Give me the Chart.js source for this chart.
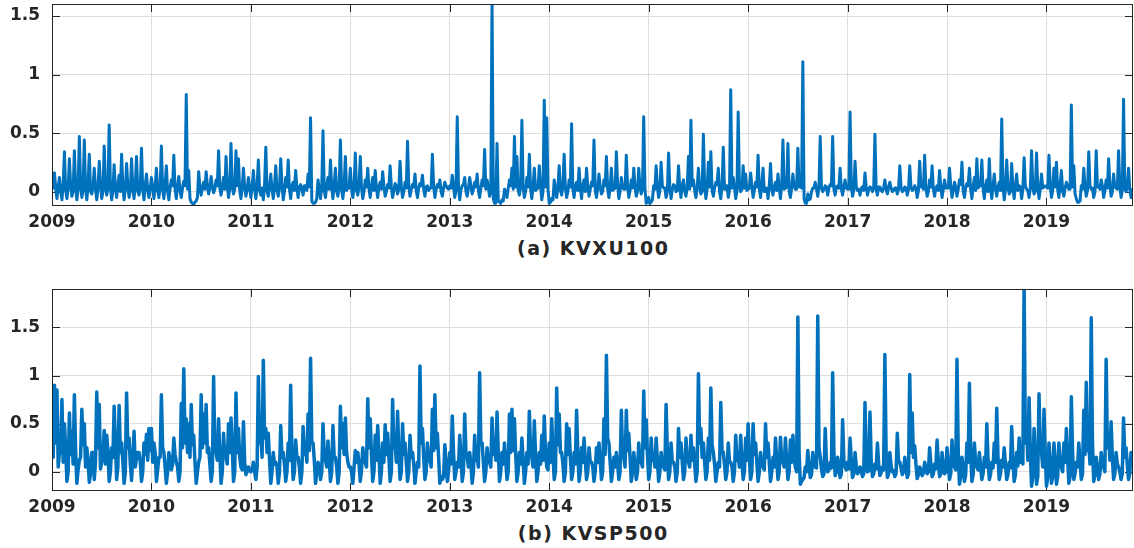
<!DOCTYPE html>
<html>
<head>
<meta charset="utf-8">
<title>KVXU100 / KVSP500</title>
<script src="https://cdn.jsdelivr.net/npm/chart.js@4.4.1/dist/chart.umd.min.js"></script>
<style>
  html, body { margin: 0; padding: 0; background: #fff; }
  #wrap { position: relative; width: 1134px; height: 548px; overflow: hidden; }
  canvas { position: absolute; left: 0; }
  #chartA { top: 0; }
  #chartB { top: 285px; }
  .cap {
    position: absolute; left: 52px; width: 1081px; text-align: center;
    font: bold 19px "DejaVu Sans", sans-serif; line-height: 22px;
    letter-spacing: 1.5px; padding-left: 1.5px; box-sizing: border-box;
    color: #262626;
  }
  #capA { top: 237px; }
  #capB { top: 522px; }
</style>
</head>
<body>
<div id="wrap">
  <canvas id="chartA" width="1134" height="232"></canvas>
  <div class="cap" id="capA">(a) KVXU100</div>
  <canvas id="chartB" width="1134" height="232"></canvas>
  <div class="cap" id="capB">(b) KVSP500</div>
</div>
<script>
// time axis: one sample every 1/80 year, starting Jan 2009
const startYear = 2009;
const yearStep = 0.0125;
const yearTicks = [2009, 2010, 2011, 2012, 2013, 2014, 2015, 2016, 2017, 2018, 2019];
const valueTicks = [0, 0.5, 1, 1.5];

// (a) KVXU100 -- peaks/troughs (every 1/40 yr), one line per year
const kvxu100Peaks = [
  0.02,0.16,-0.06,0.12,-0.07,0.34,-0.06,0.28,-0.04,0.35,-0.07,0.47,-0.05,0.44,-0.07,0.32,-0.02,0.2,-0.07,0.26,-0.06,0.39,-0.03,0.57,-0.07,0.23,-0.05,0.14,0.32,-0.07,0.24,-0.05,0.28,-0.06,0.3,-0.03,0.37,-0.07,0.15,-0.05,
  0.12,-0.06,0.2,-0.05,0.39,-0.06,0.22,-0.07,0.1,0.31,-0.06,0.13,-0.05,0.09,0.83,0.18,-0.09,-0.11,-0.08,0.17,-0.03,0.08,0.17,-0.02,0.13,-0.01,0.1,0.35,-0.03,0.12,0.3,-0.05,0.41,-0.02,0.35,0.28,-0.06,0.2,-0.04,0.12,
  -0.05,0.18,-0.06,0.27,-0.03,-0.07,0.38,-0.04,0.15,-0.06,0.22,-0.04,0.28,-0.07,0.12,0.27,-0.06,0.08,0.18,-0.05,0.06,-0.03,0.05,0.15,0.63,-0.1,-0.09,0.1,-0.06,0.52,-0.05,0.12,0.27,-0.06,0.2,-0.04,0.44,-0.06,0.3,0.06,
  0.2,-0.05,0.33,-0.03,0.3,-0.06,0.1,0.2,-0.05,0.12,0.18,-0.05,0.08,0.17,-0.04,0.06,0.22,-0.05,0.07,-0.02,0.26,-0.05,0.08,0.43,-0.04,0.06,0.15,-0.05,0.07,0.14,-0.04,0.05,0.03,0.32,-0.05,0.06,0.1,-0.04,0.08,0.03,
  0.05,0.14,-0.05,0.64,-0.07,0.05,0.12,-0.04,0.12,-0.02,0.08,0.15,-0.05,0.1,0.36,0.1,-0.04,1.65,-0.1,0.41,-0.09,-0.07,0.02,-0.05,0.1,0.2,0.47,0.3,-0.03,0.61,-0.05,0.12,0.32,-0.06,0.2,0.02,0.22,-0.07,0.78,0.63,
  -0.1,-0.06,0.1,-0.05,0.22,-0.03,0.32,-0.05,0.1,0.58,-0.05,0.08,0.2,-0.06,0.1,0.2,-0.04,0.08,0.44,-0.05,0.15,-0.02,0.1,0.3,-0.05,0.2,0.02,0.34,-0.06,0.12,0.02,0.31,-0.05,0.1,0.2,-0.04,0.2,-0.02,0.64,-0.1,
  -0.05,-0.09,0.05,0.22,-0.05,0.25,0.03,-0.05,0.33,-0.06,0.06,0.0,0.22,-0.05,0.1,-0.04,0.3,0.61,0.1,-0.05,0.2,-0.02,0.49,-0.06,0.25,0.34,-0.04,0.08,0.2,-0.06,0.38,0.02,-0.05,0.87,0.12,-0.06,0.68,0.0,0.22,0.15,
  0.02,0.16,-0.05,0.08,0.31,-0.05,0.2,0.0,-0.06,0.24,-0.03,0.08,0.15,-0.06,0.44,0.03,0.41,-0.05,0.15,0.02,0.37,0.06,1.11,-0.1,-0.02,-0.06,0.03,0.08,-0.04,0.47,0.0,0.05,-0.03,0.06,0.47,-0.03,0.05,0.2,-0.03,0.1,
  0.02,0.68,-0.04,0.26,0.01,-0.03,0.04,0.16,-0.03,0.04,0.0,0.49,-0.03,0.04,0.0,0.1,-0.02,0.08,0.0,0.03,-0.02,0.22,0.0,0.04,-0.03,0.22,0.01,0.05,-0.05,0.26,0.05,0.31,-0.04,0.1,0.22,-0.04,0.05,0.18,-0.05,0.1,
  0.03,0.2,-0.05,0.08,-0.04,0.1,0.25,-0.05,0.07,0.2,-0.06,0.12,0.28,0.05,0.27,-0.06,0.1,0.28,-0.06,0.15,-0.04,0.08,0.62,-0.07,0.27,-0.02,0.24,-0.06,0.15,0.05,-0.06,0.29,0.02,-0.05,0.35,-0.02,0.33,-0.06,0.15,0.05,
  0.05,0.31,-0.05,0.2,0.25,-0.05,0.18,-0.04,0.08,0.02,0.74,0.22,-0.06,-0.09,0.05,0.2,-0.04,0.34,0.02,-0.05,0.35,0.05,0.1,-0.05,0.1,0.28,-0.04,0.15,0.03,0.35,-0.05,0.79,0.0,0.2,-0.05
];
// (a) KVXU100 -- in-between readings of the dense band
const kvxu100Band = [
  0.04,0.02,0.05,0.0,0.06,0.01,0.03,0.05,0.0,0.04, 0.02,0.06,0.01,0.03,0.05,0.0,0.04,0.02,0.03,0.06, 0.0,0.05,0.02,0.04,0.01,0.03,0.06,0.0,0.04,0.02, 0.05,0.01,0.03,0.06,0.0,0.04,0.02,0.05,0.01,0.03,
  0.03,0.05,0.01,0.04,0.02,0.06,0.0,0.03,0.05,0.02, 0.04,0.01,0.03,0.05,0.02,-0.06,-0.1,-0.09,-0.05,0.03, 0.04,0.02,0.05,0.03,0.04,0.02,0.05,0.03,0.04,0.02, 0.05,0.03,0.04,0.02,0.05,0.01,0.03,0.04,0.02,0.03,
  0.04,0.02,0.05,0.01,0.03,0.06,0.0,0.04,0.02,0.05, 0.01,0.03,0.06,0.0,0.04,0.02,0.05,0.01,0.03,0.04, 0.02,0.05,0.01,0.04,-0.08,-0.1,-0.06,0.02,0.04,0.01, 0.05,0.02,0.03,0.06,0.0,0.04,0.02,0.05,0.01,0.03,
  0.02,0.04,0.01,0.05,0.03,0.0,0.04,0.02,0.05,0.01, 0.03,0.04,0.02,0.05,0.0,0.03,0.04,0.01,0.05,0.02, 0.04,0.0,0.03,0.05,0.02,0.04,0.01,0.03,0.05,0.02, 0.04,0.01,0.03,0.05,0.02,0.04,0.0,0.03,0.05,0.02,
  0.03,0.05,0.01,0.04,0.02,0.06,0.0,0.03,0.05,0.02, 0.04,0.01,0.03,0.05,0.02,0.04,0.0,-0.06,-0.1,-0.08, -0.1,-0.08,0.0,0.03,0.05,0.02,0.04,0.01,0.05,0.03, 0.0,0.04,0.02,0.05,0.01,0.03,0.06,0.0,0.04,0.02,
  -0.09,-0.07,0.02,0.04,0.01,0.05,0.03,0.0,0.04,0.02, 0.05,0.01,0.03,0.06,0.0,0.04,0.02,0.05,0.01,0.03, 0.04,0.0,0.05,0.02,0.04,0.01,0.03,0.06,0.0,0.04, 0.02,0.05,0.01,0.03,0.04,0.0,0.05,0.02,0.03,-0.09,
  -0.1,-0.07,0.02,0.04,0.01,0.05,0.03,0.0,0.04,0.02, 0.05,0.01,0.03,0.06,0.0,0.04,0.02,0.05,0.01,0.03, 0.04,0.0,0.05,0.02,0.04,0.01,0.03,0.06,0.0,0.04, 0.02,0.05,0.01,0.03,0.04,0.0,0.05,0.02,0.03,0.01,
  0.03,0.05,0.01,0.04,0.02,0.06,0.0,0.03,0.05,0.02, 0.04,0.01,0.03,0.05,0.02,0.04,0.0,0.03,0.05,0.02, 0.04,0.03,-0.06,-0.1,-0.07,0.0,0.03,0.02,0.04,0.03, 0.02,0.04,0.03,0.05,0.02,0.04,0.03,0.02,0.04,0.03,
  0.02,0.03,0.01,0.04,0.02,0.03,0.01,0.04,0.02,0.03, 0.03,0.02,0.04,0.01,0.03,0.02,0.04,0.03,0.01,0.03, 0.02,0.04,0.01,0.03,0.02,0.04,0.02,0.03,0.01,0.04, 0.02,0.03,0.0,0.04,0.02,0.03,0.01,0.04,0.02,0.03,
  0.03,0.05,0.01,0.04,0.02,0.06,0.0,0.03,0.05,0.02, 0.04,0.01,0.03,0.05,0.02,0.04,0.0,0.03,0.05,0.02, 0.04,0.01,0.05,0.02,0.04,0.0,0.03,0.05,0.01,0.04, 0.02,0.05,0.01,0.03,0.04,0.0,0.05,0.02,0.03,0.04,
  0.03,0.05,0.01,0.04,0.02,0.06,0.0,0.03,0.05,0.02, 0.04,-0.02,-0.09,-0.08,0.02,0.04,0.01,0.05,0.03,0.0, 0.04,0.02,0.05,0.01,0.03,0.06,0.0,0.04,0.02,0.05, 0.01,0.03,0.04,0.02,0.03
];

// (b) KVSP500 -- peaks/troughs (every 1/40 yr), one line per year
const kvsp500Peaks = [
  0.45,0.9,0.85,0.2,0.75,0.5,-0.1,0.61,0.42,0.8,-0.12,0.12,0.65,0.5,0.25,-0.11,0.2,-0.08,0.83,0.7,0.1,0.43,0.38,-0.1,0.25,0.68,-0.08,0.69,0.3,-0.12,0.82,0.35,-0.09,0.42,0.15,0.2,-0.1,0.3,0.39,0.45,
  0.45,0.3,-0.1,0.15,0.8,0.2,-0.12,0.2,0.02,0.35,0.1,-0.1,0.71,1.07,0.55,0.5,0.7,0.38,-0.12,0.1,0.8,0.6,0.7,0.25,-0.1,0.99,0.2,0.55,-0.12,0.4,0.15,0.5,0.56,-0.1,0.82,0.45,0.05,0.52,-0.03,0.05,
  0.0,0.1,-0.08,0.99,0.4,1.16,0.45,0.4,-0.12,0.2,0.1,-0.12,0.48,0.2,-0.1,0.3,0.9,-0.08,0.33,0.15,-0.12,0.47,0.3,0.6,1.18,0.3,-0.12,0.1,-0.08,0.5,0.12,0.32,-0.1,0.48,0.15,-0.12,0.68,0.5,0.56,0.1,
  0.05,-0.12,0.22,0.2,-0.1,0.25,0.1,0.76,0.55,-0.1,0.38,0.48,-0.12,0.3,0.49,0.4,-0.1,0.75,0.3,0.63,-0.08,0.5,0.3,-0.1,0.38,0.2,-0.12,0.1,1.1,0.45,-0.08,0.3,0.12,0.65,0.8,0.4,-0.12,-0.08,0.28,-0.1,
  0.2,0.58,-0.08,0.1,0.38,-0.1,0.6,0.15,0.2,-0.12,0.38,0.15,1.03,0.3,-0.1,0.25,0.1,0.56,0.35,0.62,-0.1,0.2,0.3,-0.08,0.6,0.65,0.55,-0.1,0.2,0.35,-0.12,0.2,0.63,0.15,0.53,-0.1,0.2,0.38,0.58,0.05,
  0.3,0.55,-0.08,0.87,0.6,0.2,-0.1,0.5,0.45,-0.08,0.2,0.64,-0.1,0.25,0.35,-0.08,0.25,0.1,-0.1,0.25,0.3,-0.08,0.55,1.21,0.3,-0.1,0.15,0.2,-0.08,0.64,0.15,0.64,0.4,-0.1,0.2,-0.08,0.3,0.1,0.84,0.54,
  -0.08,0.35,0.15,0.35,-0.1,0.2,0.05,0.7,-0.08,0.3,0.1,-0.1,0.45,0.3,-0.08,0.35,0.1,0.38,0.25,-0.1,1.02,0.45,0.3,-0.08,0.35,0.87,0.2,-0.1,0.1,0.72,0.2,-0.08,0.3,0.1,-0.1,0.38,0.15,0.38,-0.08,0.35,
  0.5,-0.08,0.5,0.3,-0.1,0.2,0.05,0.5,0.3,-0.1,0.15,0.35,-0.08,0.36,0.1,0.35,-0.08,0.33,0.38,0.05,1.61,-0.13,-0.08,0.05,0.22,-0.06,0.2,0.15,1.62,0.15,-0.05,0.45,0.0,0.1,1.03,-0.04,0.15,-0.06,0.54,0.05,
  0.1,0.35,-0.06,0.2,-0.02,0.05,-0.05,0.72,0.0,0.62,-0.05,0.08,0.3,-0.04,0.05,1.22,-0.06,0.2,0.0,-0.05,0.4,0.1,-0.03,0.15,-0.06,1.01,0.61,0.27,-0.07,0.05,-0.04,0.1,-0.02,0.25,-0.05,0.08,0.33,-0.05,0.2,-0.02,
  0.25,-0.08,0.33,0.05,1.17,-0.13,0.15,-0.1,0.3,0.92,-0.1,0.3,0.05,0.2,-0.08,0.15,0.5,-0.08,0.1,0.3,0.66,-0.08,0.12,0.25,-0.08,0.1,0.47,-0.1,0.2,0.35,0.2,1.95,0.5,0.77,-0.15,0.45,-0.13,0.81,0.2,0.65,
  -0.15,0.3,-0.12,0.3,-0.13,0.3,0.05,0.3,0.45,-0.12,0.78,-0.08,0.1,0.3,-0.08,0.64,0.93,0.3,1.6,-0.1,0.15,-0.08,0.2,0.05,1.17,0.4,0.52,-0.08,0.2,0.05,-0.08,0.56,0.25,-0.08,0.2
];
// (b) KVSP500 -- in-between readings of the dense band
const kvsp500Band = [
  0.15,0.3,0.05,0.2,0.1,0.25,0.0,0.18,0.08,0.22, 0.02,0.15,0.28,0.05,0.12,-0.02,0.2,0.1,0.25,0.03, 0.18,0.08,0.22,0.0,0.15,0.3,0.05,0.2,0.1,0.0, 0.25,0.08,0.15,0.05,0.2,0.1,0.0,0.18,0.12,0.22,
  0.1,0.2,0.02,0.15,0.25,0.05,0.0,0.12,0.08,0.18, 0.05,0.0,0.25,0.3,0.2,0.15,0.28,0.1,0.0,0.15, 0.25,0.3,0.2,0.08,0.0,0.22,0.12,0.18,0.0,0.15, 0.08,0.2,0.25,0.0,0.2,0.15,0.02,0.1,0.0,0.02,
  0.02,0.0,0.05,0.3,0.15,0.35,0.2,0.12,0.0,0.08, 0.05,0.0,0.15,0.08,0.0,0.12,0.2,0.0,0.15,0.05, 0.0,0.18,0.1,0.22,0.3,0.12,0.0,0.05,0.0,0.18, 0.05,0.12,0.0,0.15,0.05,0.0,0.25,0.18,0.2,0.05,
  0.0,0.05,0.1,0.08,0.02,0.12,0.05,0.25,0.18,0.0, 0.12,0.2,0.0,0.1,0.18,0.15,0.0,0.25,0.1,0.2, 0.0,0.18,0.1,0.0,0.15,0.08,0.0,0.05,0.3,0.15, 0.0,0.12,0.05,0.22,0.25,0.15,-0.05,-0.05,0.1,0.0,
  0.08,0.2,0.0,0.05,0.15,0.0,0.2,0.05,0.08,0.0, 0.12,0.05,0.3,0.1,0.0,0.1,0.05,0.18,0.12,0.2, 0.0,0.08,0.12,0.0,0.2,0.22,0.18,0.0,0.08,0.12, 0.0,0.08,0.2,0.05,0.18,0.0,0.08,0.12,0.2,0.02,
  0.1,0.18,0.0,0.28,0.2,0.08,0.0,0.18,0.15,0.0, 0.08,0.2,0.0,0.1,0.12,0.0,0.1,0.05,0.0,0.1, 0.12,0.0,0.18,0.35,0.1,0.0,0.05,0.08,0.0,0.2, 0.05,0.22,0.15,0.0,0.08,0.0,0.1,0.05,0.25,0.18,
  0.0,0.12,0.05,0.12,0.0,0.08,0.02,0.22,0.0,0.1, 0.05,0.0,0.15,0.1,0.0,0.12,0.05,0.12,0.08,0.0, 0.3,0.15,0.1,0.0,0.12,0.28,0.08,0.0,0.05,0.22, 0.08,0.0,0.1,0.05,0.0,0.12,0.05,0.12,0.0,0.12,
  0.15,0.0,0.18,0.1,0.0,0.08,0.02,0.15,0.1,0.0, 0.05,0.12,0.0,0.12,0.05,0.12,0.0,0.1,0.12,0.0, 0.2,-0.1,-0.06,0.0,0.06,-0.03,0.05,0.04,0.25,0.03, -0.02,0.1,0.02,0.04,0.2,0.0,0.05,-0.02,0.12,0.02,
  0.03,0.1,-0.02,0.06,0.0,0.02,-0.02,0.15,0.01,0.12, -0.02,0.03,0.08,-0.01,0.02,0.2,-0.02,0.06,0.01,-0.02, 0.1,0.04,0.0,0.05,-0.02,0.2,0.15,0.08,-0.03,0.02, -0.01,0.04,0.0,0.08,-0.02,0.03,0.1,-0.02,0.06,0.0,
  0.08,-0.02,0.1,0.02,0.22,-0.05,0.05,-0.03,0.1,0.2, -0.03,0.1,0.02,0.06,-0.02,0.05,0.12,-0.03,0.04,0.1, 0.15,-0.02,0.05,0.08,-0.03,0.04,0.12,-0.03,0.06,0.1, 0.08,0.3,0.12,0.2,-0.05,0.15,-0.05,0.2,0.05,0.18,
  -0.05,0.1,-0.05,0.12,-0.05,0.1,0.0,0.1,0.15,-0.05, 0.2,-0.02,0.05,0.1,-0.02,0.18,0.22,0.08,0.3,-0.03, 0.05,-0.02,0.08,0.0,0.25,0.12,0.15,-0.02,0.08,0.0, -0.02,0.15,0.08,-0.02,0.08
];

const lineColor = '#0072BD';
const axisColor = '#262626';
const gridColor = '#dedede';
const tickFont = { family: 'DejaVu Sans', size: 17, weight: 'bold' };

// peaks and band readings alternate in time
function interleave(peaks, band) {
  const out = [];
  peaks.forEach((v, i) => {
    out.push(v);
    if (i < band.length) out.push(band[i]);
  });
  return out;
}

// matlab style box with inward tick marks
const matlabBox = {
  id: 'matlabBox',
  beforeDatasetsDraw(chart) {
    const { ctx, chartArea: a, scales } = chart;
    const len = 8;
    ctx.save();
    ctx.strokeStyle = axisColor;
    ctx.lineWidth = 1;
    ctx.beginPath();
    scales.x.ticks.forEach(t => {
      const px = Math.round(scales.x.getPixelForValue(t.value)) + 0.5;
      ctx.moveTo(px, a.top); ctx.lineTo(px, a.top + len);
      ctx.moveTo(px, a.bottom); ctx.lineTo(px, a.bottom - len);
    });
    scales.y.ticks.forEach(t => {
      const py = Math.round(scales.y.getPixelForValue(t.value)) + 0.5;
      ctx.moveTo(a.left, py); ctx.lineTo(a.left + len, py);
      ctx.moveTo(a.right, py); ctx.lineTo(a.right - len, py);
    });
    ctx.stroke();
    ctx.restore();
  },
  afterDraw(chart) {
    const { ctx, chartArea: a } = chart;
    ctx.save();
    ctx.strokeStyle = axisColor;
    ctx.lineWidth = 1;
    ctx.strokeRect(a.left + 0.5, a.top + 0.5, a.right - a.left - 1, a.bottom - a.top - 1);
    ctx.restore();
  }
};

function makePanel(canvasId, values, yMin, yMax, lineWidth) {
  const points = values.map((v, i) => ({ x: startYear + i * yearStep, y: v }));
  return new Chart(document.getElementById(canvasId), {
    type: 'line',
    data: {
      datasets: [{
        data: points,
        borderColor: lineColor,
        borderWidth: lineWidth,
        borderJoinStyle: 'round',
        pointRadius: 0,
        tension: 0,
        clip: 0
      }]
    },
    options: {
      responsive: false,
      animation: false,
      events: [],
      layout: { padding: { top: 4, right: 1, left: 0, bottom: 0 } },
      plugins: { legend: { display: false }, tooltip: { enabled: false } },
      scales: {
        x: {
          type: 'linear',
          min: 2009,
          max: 2019.87,
          afterBuildTicks: s => { s.ticks = yearTicks.map(v => ({ value: v })); },
          afterFit: s => { s.height = 26; s.paddingLeft = 0; s.paddingRight = 0; },
          grid: { color: gridColor, drawTicks: false },
          border: { display: false },
          ticks: {
            autoSkip: false, maxRotation: 0, padding: 6,
            color: axisColor, font: tickFont,
            callback: v => String(v)
          }
        },
        y: {
          min: yMin,
          max: yMax,
          afterBuildTicks: s => { s.ticks = valueTicks.map(v => ({ value: v })); },
          afterFit: s => { s.width = 52; s.paddingTop = 0; s.paddingBottom = 0; },
          grid: { color: gridColor, drawTicks: false },
          border: { display: false },
          ticks: {
            padding: 12,
            color: axisColor, font: tickFont,
            callback: v => String(v)
          }
        }
      }
    },
    plugins: [matlabBox]
  });
}

makePanel('chartA', interleave(kvxu100Peaks, kvxu100Band), -0.123, 1.603, 3);
makePanel('chartB', interleave(kvsp500Peaks, kvsp500Band), -0.2, 1.9, 3.5);
</script>
</body>
</html>
